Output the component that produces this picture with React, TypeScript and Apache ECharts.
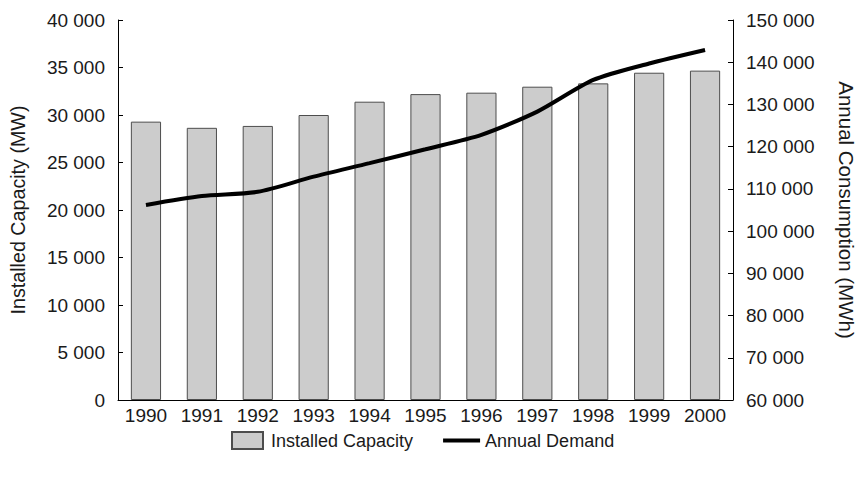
import React, { useEffect, useRef } from "react";
import * as echarts from "echarts";

const years = ["1990", "1991", "1992", "1993", "1994", "1995", "1996", "1997", "1998", "1999", "2000"];
const installedCapacity = [29300, 28650, 28850, 30000, 31400, 32200, 32350, 32980, 33330, 34450, 34670];
const annualDemand = [106200, 108300, 109300, 112900, 116100, 119400, 122800, 128300, 135800, 139700, 142900];

const FONT = "'Liberation Sans', Arial, sans-serif";
const TEXT = "#1a1a1a";

const fmt = (v: number) => {
  const s = String(Math.round(v));
  return s.replace(/\B(?=(\d{3})+(?!\d))/g, " ");
};

export default function App() {
  const ref = useRef<HTMLDivElement>(null);
  useEffect(() => {
    document.body.style.margin = "0";
    if (!ref.current) return;
    const chart = echarts.init(ref.current, undefined, { renderer: "svg" });
    chart.setOption({
      animation: false,
      textStyle: { fontFamily: FONT, color: TEXT },
      grid: { left: 118, right: 125, top: 20, bottom: 81, containLabel: false },
      legend: {
        top: 426,
        left: 226,
        itemWidth: 37,
        itemHeight: 17,
        itemGap: 30,
        textStyle: { fontFamily: FONT, fontSize: 18, color: TEXT },
        data: [
          { name: "Installed Capacity", icon: "path://M0 0H31V17H0Z" },
          { name: "Annual Demand", icon: "path://M0 0H37V4H0Z" },
        ],
      },
      xAxis: {
        type: "category",
        data: years,
        boundaryGap: true,
        axisLine: { lineStyle: { color: "#000", width: 1 } },
        axisTick: { show: false },
        axisLabel: { fontFamily: FONT, fontSize: 19, color: TEXT, margin: 6 },
      },
      yAxis: [
        {
          type: "value",
          min: 0,
          max: 40000,
          interval: 5000,
          name: "Installed Capacity (MW)",
          nameLocation: "middle",
          nameRotate: 90,
          nameGap: 90,
          nameTextStyle: { fontFamily: FONT, fontSize: 19.7, color: TEXT },
          axisLine: { show: true, lineStyle: { color: "#000", width: 1 } },
          axisTick: { show: true, inside: true, length: 5, lineStyle: { color: "#000" } },
          splitLine: { show: false },
          axisLabel: { fontFamily: FONT, fontSize: 19, color: TEXT, margin: 13, formatter: fmt },
        },
        {
          type: "value",
          min: 60000,
          max: 150000,
          interval: 10000,
          position: "right",
          name: "Annual Consumption (MWh)",
          nameLocation: "middle",
          nameRotate: -90,
          nameGap: 103,
          nameTextStyle: { fontFamily: FONT, fontSize: 20.5, color: TEXT },
          axisLine: { show: true, lineStyle: { color: "#000", width: 1 } },
          axisTick: { show: true, inside: true, length: 5, lineStyle: { color: "#000" } },
          splitLine: { show: false },
          axisLabel: { fontFamily: FONT, fontSize: 19, color: TEXT, margin: 13, formatter: fmt },
        },
      ],
      series: [
        {
          name: "Installed Capacity",
          type: "bar",
          yAxisIndex: 0,
          data: installedCapacity,
          barWidth: "54%",
          itemStyle: { color: "#cccccc", borderColor: "#4d4d4d", borderWidth: 1 },
        },
        {
          name: "Annual Demand",
          type: "line",
          yAxisIndex: 1,
          data: annualDemand,
          smooth: 0.25,
          symbol: "none",
          showSymbol: false,
          lineStyle: { color: "#000", width: 4 },
          itemStyle: { color: "#000" },
        },
      ],
    });
    return () => chart.dispose();
  }, []);
  return <div ref={ref} style={{ width: 865, height: 481 }} />;
}
